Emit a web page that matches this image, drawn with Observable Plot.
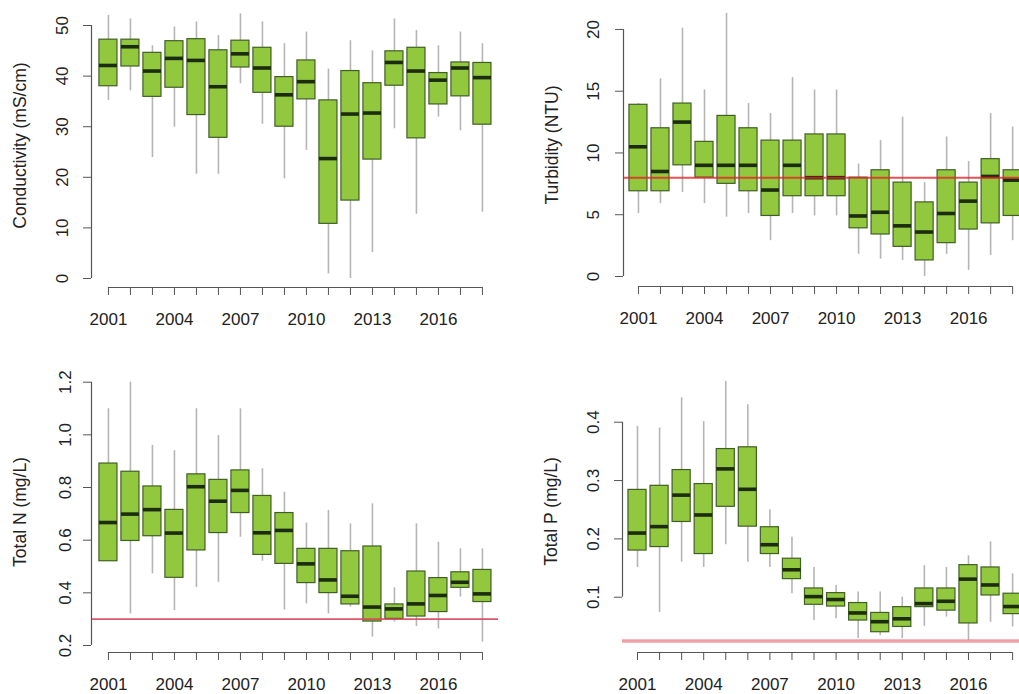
<!DOCTYPE html>
<html>
<head>
<meta charset="utf-8">
<script src="https://cdn.jsdelivr.net/npm/d3@7"></script>
<script src="https://cdn.jsdelivr.net/npm/@observablehq/plot@0.6"></script>
<style>
  html, body { margin: 0; padding: 0; background: #fff; }
  #chart { position: relative; width: 1019px; height: 694px; overflow: hidden; background: #fff; }
  .panel { position: absolute; }
  .panel svg { display: block; overflow: visible; max-width: none !important; }
</style>
</head>
<body>
<div id="chart"></div>
<script>
// Sampling years and the years that carry a printed label
const years = [2001, 2002, 2003, 2004, 2005, 2006, 2007, 2008, 2009, 2010, 2011, 2012, 2013, 2014, 2015, 2016, 2017, 2018];
const yearLabels = [2001, 2004, 2007, 2010, 2013, 2016];

// Conductivity (mS/cm): whisker ends, quartiles and medians per year
const condLow  = [35.2, 37.1, 23.9, 29.9, 20.6, 20.6, 38.5, 30.5, 19.7, 25.3, 0.9, 0.0, 5.1, 29.6, 12.7, 31.9, 29.2, 13.1];
const condQ1   = [38.0, 41.9, 35.9, 37.7, 32.3, 27.8, 41.7, 36.7, 30.0, 35.4, 10.8, 15.4, 23.5, 38.1, 27.7, 34.4, 36.0, 30.4];
const condMed  = [42.1, 45.8, 41.0, 43.5, 43.1, 37.9, 44.4, 41.6, 36.3, 38.9, 23.7, 32.5, 32.7, 42.7, 41.0, 39.2, 41.6, 39.7];
const condQ3   = [47.2, 47.2, 44.6, 46.9, 47.3, 45.1, 47.0, 45.6, 39.8, 43.1, 35.2, 41.0, 38.6, 44.9, 45.6, 40.6, 42.7, 42.6];
const condHigh = [52.0, 51.3, 46.0, 49.7, 50.7, 48.0, 52.3, 50.7, 46.4, 48.7, 41.4, 47.0, 45.0, 51.3, 49.0, 46.0, 48.7, 46.4];
const condTicks = [0, 10, 20, 30, 40, 50];

// Turbidity (NTU)
const turbLow  = [5.1, 5.9, 6.8, 5.9, 4.8, 5.1, 2.9, 5.1, 4.9, 4.9, 1.8, 1.4, 1.3, 0.0, 1.8, 0.5, 1.7, 2.9];
const turbQ1   = [6.9, 6.9, 9.0, 8.0, 7.5, 6.9, 4.9, 6.5, 6.5, 6.5, 3.9, 3.4, 2.4, 1.3, 2.7, 3.8, 4.3, 4.9];
const turbMed  = [10.5, 8.5, 12.5, 9.0, 9.0, 9.0, 7.0, 9.0, 8.0, 8.0, 4.9, 5.2, 4.1, 3.6, 5.1, 6.1, 8.1, 7.8];
const turbQ3   = [13.9, 12.0, 14.0, 10.9, 13.0, 12.0, 11.0, 11.0, 11.5, 11.5, 8.0, 8.6, 7.6, 6.0, 8.6, 7.6, 9.5, 8.6];
const turbHigh = [14.0, 16.0, 20.1, 15.1, 21.3, 14.0, 13.2, 16.1, 15.1, 15.1, 9.1, 11.0, 12.9, 7.6, 11.3, 9.3, 13.2, 12.1];
const turbTicks = [0, 5, 10, 15, 20];
const turbGuide = 8;

// Total N (mg/L)
const nLow  = [0.52, 0.32, 0.472, 0.333, 0.42, 0.44, 0.611, 0.52, 0.335, 0.358, 0.32, 0.346, 0.232, 0.289, 0.272, 0.263, 0.384, 0.213];
const nQ1   = [0.52, 0.597, 0.615, 0.457, 0.561, 0.627, 0.703, 0.544, 0.51, 0.437, 0.399, 0.356, 0.291, 0.301, 0.31, 0.327, 0.419, 0.365];
const nMed  = [0.667, 0.699, 0.716, 0.627, 0.803, 0.748, 0.789, 0.628, 0.637, 0.51, 0.449, 0.387, 0.346, 0.339, 0.358, 0.39, 0.44, 0.396];
const nQ3   = [0.891, 0.86, 0.804, 0.715, 0.85, 0.829, 0.865, 0.768, 0.703, 0.567, 0.567, 0.558, 0.576, 0.356, 0.481, 0.456, 0.478, 0.487];
const nHigh = [1.099, 1.2, 0.96, 0.94, 1.099, 0.997, 1.099, 0.871, 0.782, 0.665, 0.713, 0.662, 0.738, 0.419, 0.662, 0.592, 0.567, 0.567];
const nTicks = [0.2, 0.4, 0.6, 0.8, 1.0, 1.2];
const nGuide = 0.3;

// Total P (mg/L)
const pLow  = [0.151, 0.074, 0.16, 0.151, 0.19, 0.16, 0.151, 0.106, 0.06, 0.063, 0.029, 0.034, 0.029, 0.05, 0.066, 0.026, 0.057, 0.049];
const pQ1   = [0.18, 0.186, 0.229, 0.174, 0.255, 0.221, 0.174, 0.131, 0.087, 0.084, 0.06, 0.04, 0.049, 0.083, 0.077, 0.055, 0.103, 0.071];
const pMed  = [0.21, 0.221, 0.275, 0.241, 0.32, 0.285, 0.19, 0.147, 0.101, 0.096, 0.073, 0.058, 0.063, 0.089, 0.093, 0.131, 0.121, 0.084];
const pQ3   = [0.284, 0.291, 0.318, 0.294, 0.354, 0.357, 0.22, 0.166, 0.115, 0.107, 0.09, 0.073, 0.083, 0.115, 0.115, 0.155, 0.151, 0.106];
const pHigh = [0.393, 0.39, 0.442, 0.401, 0.47, 0.43, 0.25, 0.203, 0.151, 0.12, 0.109, 0.109, 0.1, 0.154, 0.151, 0.171, 0.195, 0.14];
const pTicks = [0.1, 0.2, 0.3, 0.4];
const pGuide = 0.025;

// Shared styling
const FONT = "'Liberation Sans', Arial, Helvetica, sans-serif";
const boxFill = "#92c83e";
const boxStroke = "#415f25";
const medianStroke = "#1b2c0f";
const whiskerStroke = "#b5b5b5";
const axisStroke = "#555";
const textFill = "#222";
const boxHalfWidth = 0.41;

function drawPanel(cfg) {
  const rows = years.map((year, i) => ({
    year, low: cfg.low[i], q1: cfg.q1[i], med: cfg.med[i], q3: cfg.q3[i], high: cfg.high[i]
  }));
  const firstTick = cfg.yTicks[0], lastTick = cfg.yTicks[cfg.yTicks.length - 1];

  const marks = [
    // whiskers
    Plot.ruleX(rows, {x: "year", y1: "q3", y2: "high", stroke: whiskerStroke, strokeWidth: 1.6}),
    Plot.ruleX(rows, {x: "year", y1: "low", y2: "q1", stroke: whiskerStroke, strokeWidth: 1.6}),
    // interquartile boxes
    Plot.rect(rows, {
      x1: d => d.year - boxHalfWidth, x2: d => d.year + boxHalfWidth,
      y1: "q1", y2: "q3", fill: boxFill, stroke: boxStroke, strokeWidth: 1.2
    }),
    // medians
    Plot.ruleY(rows, {
      y: "med", x1: d => d.year - boxHalfWidth, x2: d => d.year + boxHalfWidth,
      stroke: medianStroke, strokeWidth: 3.6
    })
  ];

  if (cfg.guide != null) {
    marks.push(Plot.ruleY([cfg.guide], {
      stroke: cfg.guideColor, strokeWidth: cfg.guideWidth, strokeOpacity: cfg.guideOpacity
    }));
  }

  marks.push(
    // y axis: line between first and last tick, ticks, rotated labels
    Plot.ruleX([cfg.xDomain[0]], {y1: firstTick, y2: lastTick, stroke: axisStroke, strokeWidth: 1.2}),
    Plot.axisY({
      ticks: cfg.yTicks, tickSize: 8, tickRotate: -90, tickPadding: cfg.yTickPadding,
      tickFormat: cfg.yFormat, stroke: axisStroke, fill: textFill,
      fontSize: 17, label: null
    }),
    // x axis: line across the years, a tick per year, labels every third year
    Plot.ruleY([cfg.yDomain[0]], {x1: years[0], x2: years[years.length - 1], stroke: axisStroke, strokeWidth: 1.2}),
    Plot.axisX({ticks: years, tickSize: 8, tickFormat: () => "", stroke: axisStroke, label: null}),
    Plot.axisX({
      ticks: yearLabels, tickSize: 0, tickPadding: 25, tickFormat: d => String(d),
      fill: textFill, fontSize: 17, label: null
    }),
    // y axis title, centred on the plotting region
    Plot.text([cfg.title], {
      text: d => d, frameAnchor: "left", textAnchor: "middle", lineAnchor: "middle",
      rotate: -90, dx: -71, fill: textFill, fontSize: 17.5
    })
  );

  const svg = Plot.plot({
    width: cfg.width,
    height: cfg.height,
    marginLeft: cfg.marginLeft,
    marginRight: cfg.marginRight,
    marginTop: cfg.marginTop,
    marginBottom: cfg.marginBottom,
    style: {fontFamily: FONT, background: "transparent", overflow: "visible"},
    x: {type: "linear", domain: cfg.xDomain},
    y: {type: "linear", domain: cfg.yDomain},
    marks
  });

  const holder = document.createElement("div");
  holder.className = "panel";
  holder.style.left = cfg.left + "px";
  holder.style.top = cfg.top + "px";
  holder.style.width = cfg.width + "px";
  holder.style.height = cfg.height + "px";
  holder.appendChild(svg);
  document.getElementById("chart").appendChild(holder);
}

const fmtInt = d3.format("d");
const fmt1 = d3.format(".1f");

drawPanel({
  title: "Conductivity (mS/cm)",
  low: condLow, q1: condQ1, med: condMed, q3: condQ3, high: condHigh,
  yTicks: condTicks, yFormat: fmtInt,
  left: 0, top: 0, width: 510, height: 340,
  marginLeft: 91, marginRight: 12, marginTop: 3, marginBottom: 53,
  xDomain: [2000.23, 2018.73], yDomain: [-1.78, 54.35],
  yTickPadding: 16
});

drawPanel({
  title: "Turbidity (NTU)",
  low: turbLow, q1: turbQ1, med: turbMed, q3: turbQ3, high: turbHigh,
  yTicks: turbTicks, yFormat: fmtInt,
  guide: turbGuide, guideColor: "#e3262b", guideWidth: 2, guideOpacity: 0.8,
  left: 510, top: 0, width: 520, height: 340,
  marginLeft: 113, marginRight: 2, marginTop: 3, marginBottom: 54,
  xDomain: [2000.32, 2018.72], yDomain: [-0.81, 22.1],
  yTickPadding: 17
});

drawPanel({
  title: "Total N (mg/L)",
  low: nLow, q1: nQ1, med: nMed, q3: nQ3, high: nHigh,
  yTicks: nTicks, yFormat: fmt1,
  guide: nGuide, guideColor: "#d9455a", guideWidth: 1.8, guideOpacity: 0.9,
  left: 0, top: 340, width: 510, height: 354,
  marginLeft: 91, marginRight: 12, marginTop: 31, marginBottom: 42,
  xDomain: [2000.23, 2018.73], yDomain: [0.1734, 1.2406],
  yTickPadding: 13
});

drawPanel({
  title: "Total P (mg/L)",
  low: pLow, q1: pQ1, med: pMed, q3: pQ3, high: pHigh,
  yTicks: pTicks, yFormat: fmt1,
  guide: pGuide, guideColor: "#e8606e", guideWidth: 3.5, guideOpacity: 0.6,
  left: 510, top: 340, width: 520, height: 354,
  marginLeft: 112, marginRight: 2, marginTop: 30, marginBottom: 42,
  xDomain: [2000.32, 2018.72], yDomain: [0.0052, 0.4887],
  yTickPadding: 16
});
</script>
</body>
</html>
